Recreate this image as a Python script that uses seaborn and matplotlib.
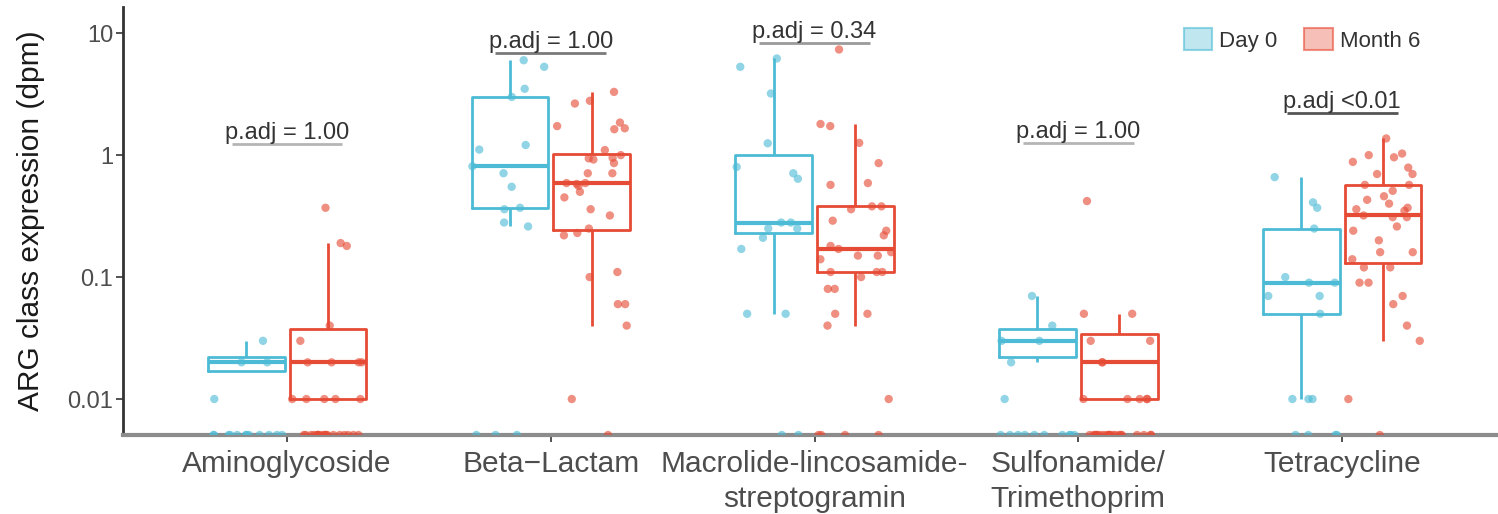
import numpy as np
import pandas as pd
import matplotlib
matplotlib.use("Agg")
import matplotlib.pyplot as plt
from matplotlib.patches import Patch
from matplotlib.colors import to_rgba
from matplotlib.ticker import NullLocator
import seaborn as sns

# ARG classes and sampling time points
classes = ["Aminoglycoside", "Beta\u2212Lactam", "Macrolide-lincosamide-\nstreptogramin",
           "Sulfonamide/\nTrimethoprim", "Tetracycline"]
groups = ["Day 0", "Month 6"]

# expression (dpm); 0 = not detected (drawn on the bottom edge)
amino_d0 = [0.01, 0.02, 0.02, 0.03] + [0] * 12
amino_m6 = [0.01] * 5 + [0.02] * 4 + [0.03, 0.04, 0.18, 0.19, 0.37] + [0] * 19
beta_d0 = [0.26, 0.28, 0.36, 0.37, 0.55, 0.71, 0.81, 1.11, 1.21, 3.0, 3.5, 5.3, 6.0] + [0] * 3
beta_m6 = [0.01, 0.04, 0.06, 0.06, 0.10, 0.11, 0.22, 0.23, 0.25, 0.32, 0.36, 0.45, 0.50,
           0.56, 0.58, 0.59, 0.59, 0.71, 0.71, 0.86, 0.92, 0.94, 0.95, 1.00, 1.10, 1.63,
           1.66, 1.73, 1.85, 2.65, 2.79, 3.30] + [0]
macro_d0 = [0.05, 0.05, 0.17, 0.21, 0.25, 0.25, 0.28, 0.28, 0.64, 0.71, 0.80, 1.25,
            3.2, 5.3, 6.2] + [0] * 2
macro_m6 = [0.01, 0.04, 0.05, 0.05, 0.08, 0.08, 0.10, 0.11, 0.11, 0.11, 0.14, 0.15, 0.15,
            0.16, 0.17, 0.18, 0.22, 0.24, 0.29, 0.36, 0.38, 0.38, 0.57, 0.59, 0.86, 1.26,
            1.73, 1.80, 7.35] + [0] * 4
sulfo_d0 = [0.01, 0.02, 0.03, 0.03, 0.04, 0.07] + [0] * 10
sulfo_m6 = [0.01] * 5 + [0.02] * 2 + [0.03] * 2 + [0.05] * 2 + [0.42] + [0] * 21
tetra_d0 = [0.01, 0.01, 0.01, 0.05, 0.07, 0.07, 0.09, 0.09, 0.10, 0.25, 0.37, 0.41, 0.66] + [0] * 4
tetra_m6 = [0.01, 0.03, 0.04, 0.06, 0.07, 0.09, 0.09, 0.12, 0.12, 0.14, 0.16, 0.16, 0.20,
            0.24, 0.26, 0.31, 0.31, 0.32, 0.35, 0.36, 0.37, 0.40, 0.43, 0.46, 0.51, 0.57,
            0.57, 0.70, 0.70, 0.79, 0.88, 0.96, 1.00, 1.03, 1.37] + [0]

# adjusted p-values and bracket heights
p_labels = ["p.adj = 1.00", "p.adj = 1.00", "p.adj = 0.34", "p.adj = 1.00", "p.adj <0.01"]
p_heights = [1.23, 6.86, 8.28, 1.26, 2.21]

series = {
    ("Day 0", 0): amino_d0, ("Month 6", 0): amino_m6,
    ("Day 0", 1): beta_d0, ("Month 6", 1): beta_m6,
    ("Day 0", 2): macro_d0, ("Month 6", 2): macro_m6,
    ("Day 0", 3): sulfo_d0, ("Month 6", 3): sulfo_m6,
    ("Day 0", 4): tetra_d0, ("Month 6", 4): tetra_m6,
}
shift = {"Day 0": -0.155, "Month 6": 0.155}
rows = []
for (g, i), vals in series.items():
    for v in vals:
        rows.append({"group": g, "pos": i + shift[g], "value": v})
df = pd.DataFrame(rows)

pal = {"Day 0": "#4DBBD5", "Month 6": "#E64B35"}
y_lo, y_hi = 10 ** -2.295, 10 ** 1.213
df["shown"] = df["value"].where(df["value"] > 0, y_lo)

sns.set_theme(style="white")
plt.rcParams["font.family"] = ["Liberation Sans", "DejaVu Sans"]

fig, ax = plt.subplots(figsize=(14.98, 5.14), dpi=100)
fig.subplots_adjust(left=0.0821, right=1.0, top=0.986, bottom=0.1537)

sns.boxplot(data=df[df["value"] > 0], x="pos", y="value", hue="group", palette=pal,
            orient="x", native_scale=True, log_scale=(False, True), dodge=False,
            width=0.94, fill=False, linewidth=2, showfliers=False, showcaps=False,
            medianprops=dict(linewidth=3), legend=False, ax=ax)

np.random.seed(7)
sns.stripplot(data=df, x="pos", y="shown", hue="group", palette=pal, orient="x",
              native_scale=True, log_scale=(False, True), dodge=False, jitter=0.46,
              size=6, alpha=0.62, linewidth=0, legend=False, ax=ax, zorder=3)

# p.adj brackets
line_cols = ["#b5b5b5", "#7a7a7a", "#9a9a9a", "#b5b5b5", "#555555"]
for i, (lab, h) in enumerate(zip(p_labels, p_heights)):
    ax.plot([i - 0.21, i + 0.21], [h, h], color=line_cols[i], lw=2, solid_capstyle="butt")
    ax.text(i, h * 1.005, lab, ha="center", va="bottom", fontsize=17, color="#333333")

ax.set_xlim(-0.622, 4.591)
ax.set_ylim(y_lo, y_hi)
ax.set_xticks(range(len(classes)), classes)
ax.set_yticks([0.01, 0.1, 1, 10], ["0.01", "0.1", "1", "10"])
ax.yaxis.set_minor_locator(NullLocator())
ax.set_xlabel("")
ax.set_ylabel("ARG class expression (dpm)", fontsize=21.5, color="#1a1a1a", labelpad=16)

for s in ["top", "right"]:
    ax.spines[s].set_visible(False)
ax.spines["left"].set_color("#333333")
ax.spines["left"].set_linewidth(2)
ax.spines["bottom"].set_color("#8c8c8c")
ax.spines["bottom"].set_linewidth(3)
ax.tick_params(axis="y", length=5, width=1.2, color="#333333", labelsize=17,
               labelcolor="#4d4d4d", left=True, pad=2)
ax.tick_params(axis="x", length=5, width=1.2, color="#333333", labelsize=21.5,
               labelcolor="#4d4d4d", bottom=True, pad=6)
for t in ax.get_xticklabels():
    t.set_linespacing(1.3)

handles = [Patch(facecolor=to_rgba(pal[g], 0.35), edgecolor=to_rgba(pal[g], 0.6),
                 linewidth=1.5) for g in groups]
leg = fig.legend(handles, groups, loc="center right", bbox_to_anchor=(1420 / 1498, 1 - 40 / 514),
                 bbox_transform=fig.transFigure, ncol=2, frameon=False, fontsize=16,
                 handlelength=1.3, handleheight=1.1, handletextpad=0.3, columnspacing=1.2,
                 borderpad=0, borderaxespad=0)
for t in leg.get_texts():
    t.set_color("#333333")

fig.savefig("out.png", dpi=100)
